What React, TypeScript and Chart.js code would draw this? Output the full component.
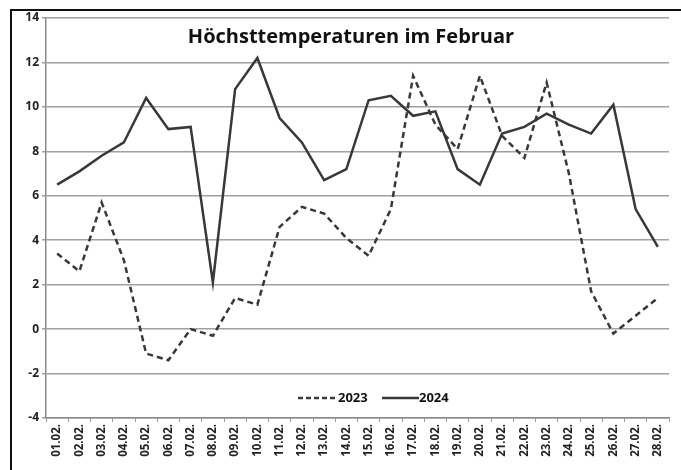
import React, { useEffect, useRef } from "react";
import { Chart, registerables } from "chart.js";

Chart.register(...registerables);

const categories = [
  "01.02.", "02.02.", "03.02.", "04.02.", "05.02.", "06.02.", "07.02.", "08.02.", "09.02.", "10.02.",
  "11.02.", "12.02.", "13.02.", "14.02.", "15.02.", "16.02.", "17.02.", "18.02.", "19.02.", "20.02.",
  "21.02.", "22.02.", "23.02.", "24.02.", "25.02.", "26.02.", "27.02.", "28.02.",
];

const values2023 = [
  3.4, 2.6, 5.7, 3.1, -1.1, -1.4, 0.0, -0.3, 1.4, 1.1,
  4.6, 5.5, 5.2, 4.1, 3.3, 5.4, 11.4, 9.2, 8.1, 11.4,
  8.7, 7.7, 11.1, 7.0, 1.7, -0.2, 0.6, 1.4,
];

const values2024 = [
  6.5, 7.1, 7.8, 8.4, 10.4, 9.0, 9.1, 2.1, 10.8, 12.2,
  9.5, 8.4, 6.7, 7.2, 10.3, 10.5, 9.6, 9.8, 7.2, 6.5,
  8.8, 9.1, 9.7, 9.2, 8.8, 10.1, 5.4, 3.7,
];

const seriesNames = ["2023", "2024"];
const titleText = "Höchsttemperaturen im Februar";

const LINE = "#383838";
const FONT = "'Open Sans', 'Liberation Sans', sans-serif";

export default function App() {
  const ref = useRef<HTMLCanvasElement | null>(null);

  useEffect(() => {
    document.body.style.margin = "0";
    const canvas = ref.current;
    if (!canvas) return;

    const overlay = {
      id: "overlay",
      beforeDraw(chart: any) {
        const ctx = chart.ctx;
        ctx.save();
        ctx.fillStyle = "#ffffff";
        ctx.fillRect(0, 0, chart.width, chart.height);
        ctx.strokeStyle = "#111";
        ctx.lineWidth = 2;
        ctx.beginPath();
        ctx.moveTo(11, chart.height);
        ctx.lineTo(11, 10);
        ctx.lineTo(chart.width, 10);
        ctx.stroke();
        ctx.restore();
      },
      afterDraw(chart: any) {
        const ctx = chart.ctx;
        ctx.save();
        // title
        ctx.fillStyle = "#111";
        ctx.font = `bold 20px ${FONT}`;
        ctx.textAlign = "center";
        ctx.textBaseline = "middle";
        ctx.fillText(titleText, 351, 37);
        // legend
        const ly = 398;
        ctx.font = `bold 13px ${FONT}`;
        ctx.textAlign = "left";
        ctx.strokeStyle = LINE;
        ctx.lineWidth = 2.5;
        ctx.setLineDash([5, 3]);
        ctx.beginPath();
        ctx.moveTo(298, ly);
        ctx.lineTo(337, ly);
        ctx.stroke();
        ctx.setLineDash([]);
        ctx.fillText(seriesNames[0], 338, ly);
        ctx.beginPath();
        ctx.moveTo(382, ly);
        ctx.lineTo(419, ly);
        ctx.stroke();
        ctx.fillText(seriesNames[1], 419, ly);
        ctx.restore();
      },
    };

    const chart = new Chart(canvas, {
      type: "line",
      data: {
        labels: categories,
        datasets: [
          {
            label: seriesNames[0],
            data: values2023,
            borderColor: LINE,
            borderWidth: 2.5,
            borderDash: [6, 4],
            pointRadius: 0,
            tension: 0,
          },
          {
            label: seriesNames[1],
            data: values2024,
            borderColor: LINE,
            borderWidth: 2.5,
            pointRadius: 0,
            tension: 0,
          },
        ],
      },
      plugins: [overlay],
      options: {
        animation: false,
        responsive: false,
        devicePixelRatio: 1,
        layout: { padding: { left: 0, top: 18, right: 12, bottom: 0 } },
        plugins: {
          legend: { display: false },
          title: { display: false },
          tooltip: { enabled: false },
        },
        scales: {
          x: {
            offset: true,
            grid: {
              offset: true,
              drawOnChartArea: false,
              color: "#9a9a9a",
              tickLength: 4,
            },
            border: { color: "#8a8a8a", width: 1.5 },
            ticks: {
              color: "#222",
              font: { family: FONT, size: 11.5, weight: "bold" },
              minRotation: 90,
              maxRotation: 90,
              autoSkip: false,
              padding: 2,
            },
            afterFit: (s: any) => {
              s.height = 52;
            },
          },
          y: {
            min: -4,
            max: 14,
            grid: { color: "#a0a0a0", lineWidth: 1.5, tickLength: 4 },
            border: { color: "#8a8a8a", width: 1.5 },
            ticks: {
              stepSize: 2,
              color: "#222",
              font: { family: FONT, size: 12, weight: "bold" },
              padding: 3,
            },
            afterFit: (s: any) => {
              s.width = 46;
            },
          },
        },
      },
    } as any);

    return () => chart.destroy();
  }, []);

  return <canvas ref={ref} width={681} height={470} style={{ display: "block" }} />;
}
